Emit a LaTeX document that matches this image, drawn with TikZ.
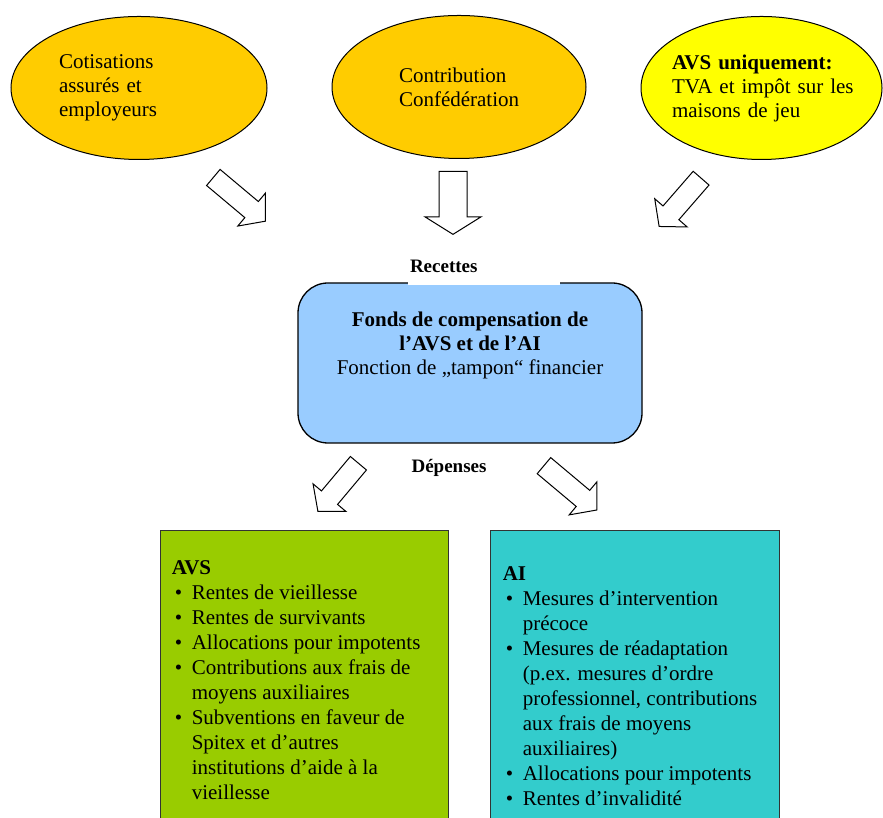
\documentclass[tikz,border=0pt]{standalone}
\usepackage{fontspec}
\setmainfont{Liberation Serif}
\usetikzlibrary{shapes.geometric,shapes.arrows}

\definecolor{orsource}{HTML}{FFCC00}
\definecolor{jaunesource}{HTML}{FFFF00}
\definecolor{bleufonds}{HTML}{99CCFF}
\definecolor{vertavs}{HTML}{99CC00}
\definecolor{turqai}{HTML}{33CCCC}

\newcommand{\puce}{\makebox[20pt][l]{\hspace{3pt}\textbullet}}
\newcommand{\retrait}{\hspace*{20pt}}

\begin{document}
\begin{tikzpicture}[x=1pt, y=1pt,
    % Define styles
    source/.style={ellipse, draw=black, line width=1pt, fill=orsource, minimum width=256pt, minimum height=143pt, inner sep=-20pt, align=left, font=\fontsize{21}{24}\selectfont},
    fund/.style={rectangle, rounded corners=30pt, draw=black, line width=1.3pt, fill=bleufonds, minimum width=344pt, minimum height=160pt},
    branch/.style={rectangle, draw=black!80, line width=0.8pt, minimum width=288pt, minimum height=310pt},
    listtext/.style={anchor=north west, inner sep=0pt, align=left, font=\fontsize{21}{25}\selectfont},
    caption/.style={font=\fontsize{19}{22}\selectfont\bfseries},
    bigarrow/.style={single arrow, draw=black, line width=1pt, fill=white, inner xsep=0pt, inner ysep=10pt, minimum height=68pt, minimum width=42pt, single arrow head extend=11pt, single arrow tip angle=100},
    downarrow/.style={bigarrow, inner ysep=13.5pt, minimum height=63pt, minimum width=55pt, single arrow head extend=14pt, single arrow tip angle=116}
]
\useasboundingbox (0,0) rectangle (883,818);
\clip (0,0) rectangle (883,818);

% Sources
\node[source, text width=160pt] (cotisations) at (139,730) {Cotisations\\assurés et\\employeurs};
\node[source, text width=120pt, minimum width=254pt] (confederation) at (459,731) {Contribution\\Confédération};
\node[source, text width=179pt, minimum width=241pt, fill=jaunesource] (tva) at (761.5,730) {\textbf{AVS uniquement:}\\\mbox{TVA et impôt sur les}\\maisons de jeu};

% Arrows in
\node[bigarrow, rotate=-40] (flecheA) at (236,621.5) {};
\node[downarrow, rotate=-90] (flecheB) at (453,619.5) {};
\node[bigarrow, minimum height=64pt, rotate=-131] (flecheC) at (683,619) {};

% Fund
\node[fund] (fonds) at (470,455) {};
\node[align=center, font=\fontsize{21}{24}\selectfont] (fondsText) at ([yshift=18pt]fonds.center) {\textbf{Fonds de compensation de}\\\textbf{l’AVS et de l’AI}\\Fonction de „tampon“ financier};
\node[caption, fill=white, text width=148pt, align=left, inner xsep=2pt, inner ysep=0pt, minimum height=32pt, text height=13pt, text depth=6pt] (recettes) at (484,549) {Recettes};
\node[caption] (depenses) at (449,350) {Dépenses};

% Arrows out
\node[bigarrow, minimum height=63pt, rotate=-130] (flecheD) at (341,334) {};
\node[bigarrow, minimum height=69pt, rotate=-40] (flecheE) at (567,333) {};

% Branches
\node[branch, fill=vertavs] (avs) at (304,133) {};
\node[branch, fill=turqai, minimum width=289pt] (ai) at (634.5,133) {};

\node[listtext] (avsText) at ([xshift=12pt, yshift=-31pt]avs.north west) {\textbf{AVS}\\
\puce Rentes de vieillesse\\
\puce Rentes de survivants\\
\puce Allocations pour impotents\\
\puce Contributions aux frais de\\
\retrait moyens auxiliaires\\
\puce Subventions en faveur de\\
\retrait Spitex et d’autres\\
\retrait institutions d’aide à la\\
\retrait vieillesse};

\node[listtext] (aiText) at ([xshift=13pt, yshift=-37pt]ai.north west) {\textbf{AI}\\
\puce Mesures d’intervention\\
\retrait précoce\\
\puce Mesures de réadaptation\\
\retrait (p.ex. mesures d’ordre\\
\retrait professionnel, contributions\\
\retrait aux frais de moyens\\
\retrait auxiliaires)\\
\puce Allocations pour impotents\\
\puce Rentes d’invalidité};

\end{tikzpicture}
\end{document}
